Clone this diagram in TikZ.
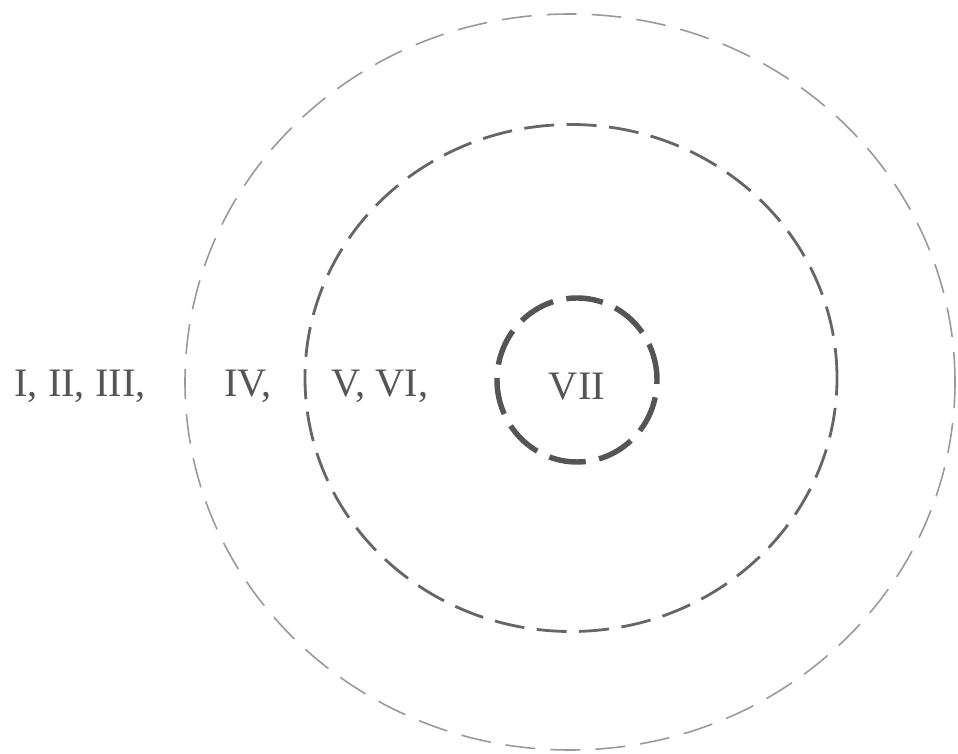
\documentclass[tikz,border=0pt]{standalone}
\usepackage{fontspec}
\setmainfont{Liberation Serif}
\usepackage{tikz}
\usetikzlibrary{positioning}
\definecolor{ringgray}{RGB}{85, 85, 85}
\definecolor{textgray}{RGB}{85, 85, 85}

\begin{document}
\begin{tikzpicture}[font=\fontsize{23}{27}\selectfont,
    label/.style={text=textgray, inner sep=0pt},
    outerring/.style={draw=ringgray!60, line width=0.9pt, dash pattern=on 0.6cm off 0.3cm},
    midring/.style={draw=ringgray!90, line width=1.6pt, dash pattern=on 0.6cm off 0.25cm},
    innerring/.style={draw=ringgray, line width=3.1pt, dash pattern=on 0.74cm off 0.27cm}]
  \useasboundingbox (0,0) rectangle (19.16,15.06);
  % rings
  \draw[outerring] (11.4,7.42) ellipse [x radius=7.7cm, y radius=7.36cm];
  \draw[midring] (11.42,7.5) ellipse [x radius=5.32cm, y radius=5.07cm];
  \draw[innerring] (11.54,7.46) ellipse [x radius=1.6cm, y radius=1.64cm];
  % labels
  \node[label] (vii) at (11.54,7.33) {VII};
  \node[label] (vvi) at (7.6,7.33) {V, VI,};
  \node[label] (iv) at (4.96,7.33) {IV,};
  \node[label] (itoiii) at (1.6,7.33) {I, II, III,};
\end{tikzpicture}
\end{document}
